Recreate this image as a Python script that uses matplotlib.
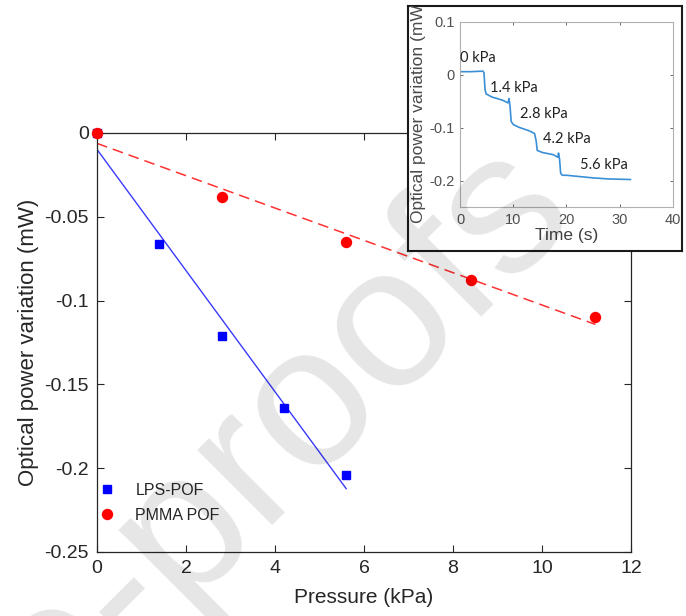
import numpy as np
import matplotlib
matplotlib.use("Agg")
import matplotlib.pyplot as plt
from matplotlib.lines import Line2D

plt.rcParams['font.family'] = ['Liberation Sans', 'DejaVu Sans']

# ---- main chart data ----
pressure_lps = [0.0, 1.4, 2.8, 4.2, 5.6]
power_lps = [0.0, -0.066, -0.121, -0.164, -0.204]
pressure_pmma = [0.0, 2.8, 5.6, 8.4, 11.2]
power_pmma = [0.0, -0.038, -0.065, -0.088, -0.110]
x_ticks = [0, 2, 4, 6, 8, 10, 12]
y_ticks = [0, -0.05, -0.1, -0.15, -0.2, -0.25]
y_tick_labels = ['0', '-0.05', '-0.1', '-0.15', '-0.2', '-0.25']

# ---- inset data ----
time_s = [0.0, 2.0, 4.3, 4.5, 4.7, 4.9, 6.0, 8.0, 9.0, 9.2, 9.4, 9.6, 10.0, 11.0,
          13.0, 14.0, 14.3, 14.5, 15.5, 17.5, 18.4, 18.5, 18.7, 18.9, 19.2, 20.0,
          22.0, 25.0, 28.0, 32.0]
power_time = [0.006, 0.006, 0.007, 0.004, -0.028, -0.036, -0.042, -0.048, -0.053,
              -0.045, -0.060, -0.088, -0.094, -0.099, -0.106, -0.111, -0.125,
              -0.143, -0.147, -0.151, -0.156, -0.148, -0.160, -0.186, -0.190,
              -0.190, -0.192, -0.195, -0.197, -0.198]
step_labels = ['0 kPa', '1.4 kPa', '2.8 kPa', '4.2 kPa', '5.6 kPa']
inset_x_ticks = [0, 10, 20, 30, 40]
inset_y_ticks = [0.1, 0, -0.1, -0.2]

dark = '#262626'
fig = plt.figure(figsize=(6.86, 6.16), dpi=100)

ax = fig.add_axes([0.1414, 0.1039, 0.7784, 0.6802])
ax.set_xlim(0, 12)
ax.set_ylim(-0.25, 0)

# linear fits
xl = np.array([pressure_lps[0], pressure_lps[-1]])
p1 = np.polyfit(pressure_lps, power_lps, 1)
ax.plot(xl, np.polyval(p1, xl), color='#3a3aff', lw=1.0, zorder=2)
xp = np.array([pressure_pmma[0], pressure_pmma[-1]])
p2 = np.polyfit(pressure_pmma, power_pmma, 1)
ax.plot(xp, np.polyval(p2, xp), color='#ff3030', lw=1.1, ls=(0, (7, 4)), zorder=2)

ax.plot(pressure_lps, power_lps, 's', color='#0000ff', ms=5.8, zorder=3, clip_on=False)
ax.plot(pressure_pmma, power_pmma, 'o', color='#ff0000', ms=7.2, zorder=4, clip_on=False)

ax.set_xticks(x_ticks)
ax.set_yticks(y_ticks)
ax.set_yticklabels(y_tick_labels)
ax.tick_params(direction='in', top=True, right=True, length=5, width=0.8,
               labelsize=14, colors=dark, pad=6)
for s in ax.spines.values():
    s.set_color(dark)
    s.set_linewidth(0.9)
ax.set_xlabel('Pressure (kPa)', fontsize=15, color=dark, labelpad=8)
ax.set_ylabel('Optical power variation (mW)', fontsize=16, color=dark, labelpad=4)

handles = [Line2D([], [], ls='none', marker='s', color='#0000ff', ms=5.8),
           Line2D([], [], ls='none', marker='o', color='#ff0000', ms=7.2)]
leg = ax.legend(handles, ['LPS-POF', 'PMMA POF'], loc='lower left',
                bbox_to_anchor=(-0.006, 0.055), frameon=False, fontsize=11.5,
                handlelength=0.8, handletextpad=1.4, labelspacing=0.6,
                borderaxespad=0)
for t in leg.get_texts():
    t.set_color(dark)

# ---- inset frame ----
fr = fig.add_axes([0.5948, 0.5925, 0.3994, 0.3978], zorder=5)
fr.set_xticks([])
fr.set_yticks([])
fr.set_facecolor('white')
for s in fr.spines.values():
    s.set_color('#1a1a1a')
    s.set_linewidth(1.5)
fr.text(418 / 686, 1 - 223 / 616, 'Optical power variation (mW)', transform=fig.transFigure,
        rotation=90, ha='center', va='bottom', fontsize=12.5, color='#4a4a4a', clip_on=True)

ins = fig.add_axes([0.6706, 0.6640, 0.3104, 0.3003], zorder=6)
ins.set_facecolor('none')
ins.plot(time_s, power_time, color='#3a8fd6', lw=1.2)
ins.set_xlim(0, 40)
ins.set_ylim(-0.25, 0.1)
ins.set_xticks(inset_x_ticks)
ins.set_yticks(inset_y_ticks)
ins.set_yticklabels(['0.1', '0', '-0.1', '-0.2'])
ins.tick_params(direction='in', top=True, right=True, length=2.5, width=0.6,
                labelsize=10.5, colors='#505050', pad=4)
for s in ins.spines.values():
    s.set_color('#b0b0b0')
    s.set_linewidth(0.8)
ins.set_xlabel('Time (s)', fontsize=12.5, color='#404040', labelpad=1)

label_pos = [(0.0, 0.032), (5.6, -0.025), (11.25, -0.074), (15.6, -0.121), (22.5, -0.171)]
for lab, (tx, ty) in zip(step_labels, label_pos):
    ins.text(tx, ty, lab, fontsize=10.5, family=['Lato', 'DejaVu Sans'], color='#222222',
             ha='left', va='center')

# ---- watermark ----
fig.text(580 / 686, 1 - 218 / 616, 'Journal Pre-proofs', rotation=45, rotation_mode='anchor',
         ha='right', va='baseline', fontsize=145, color='k', alpha=0.1, zorder=100)

fig.savefig('out.png', dpi=100)
